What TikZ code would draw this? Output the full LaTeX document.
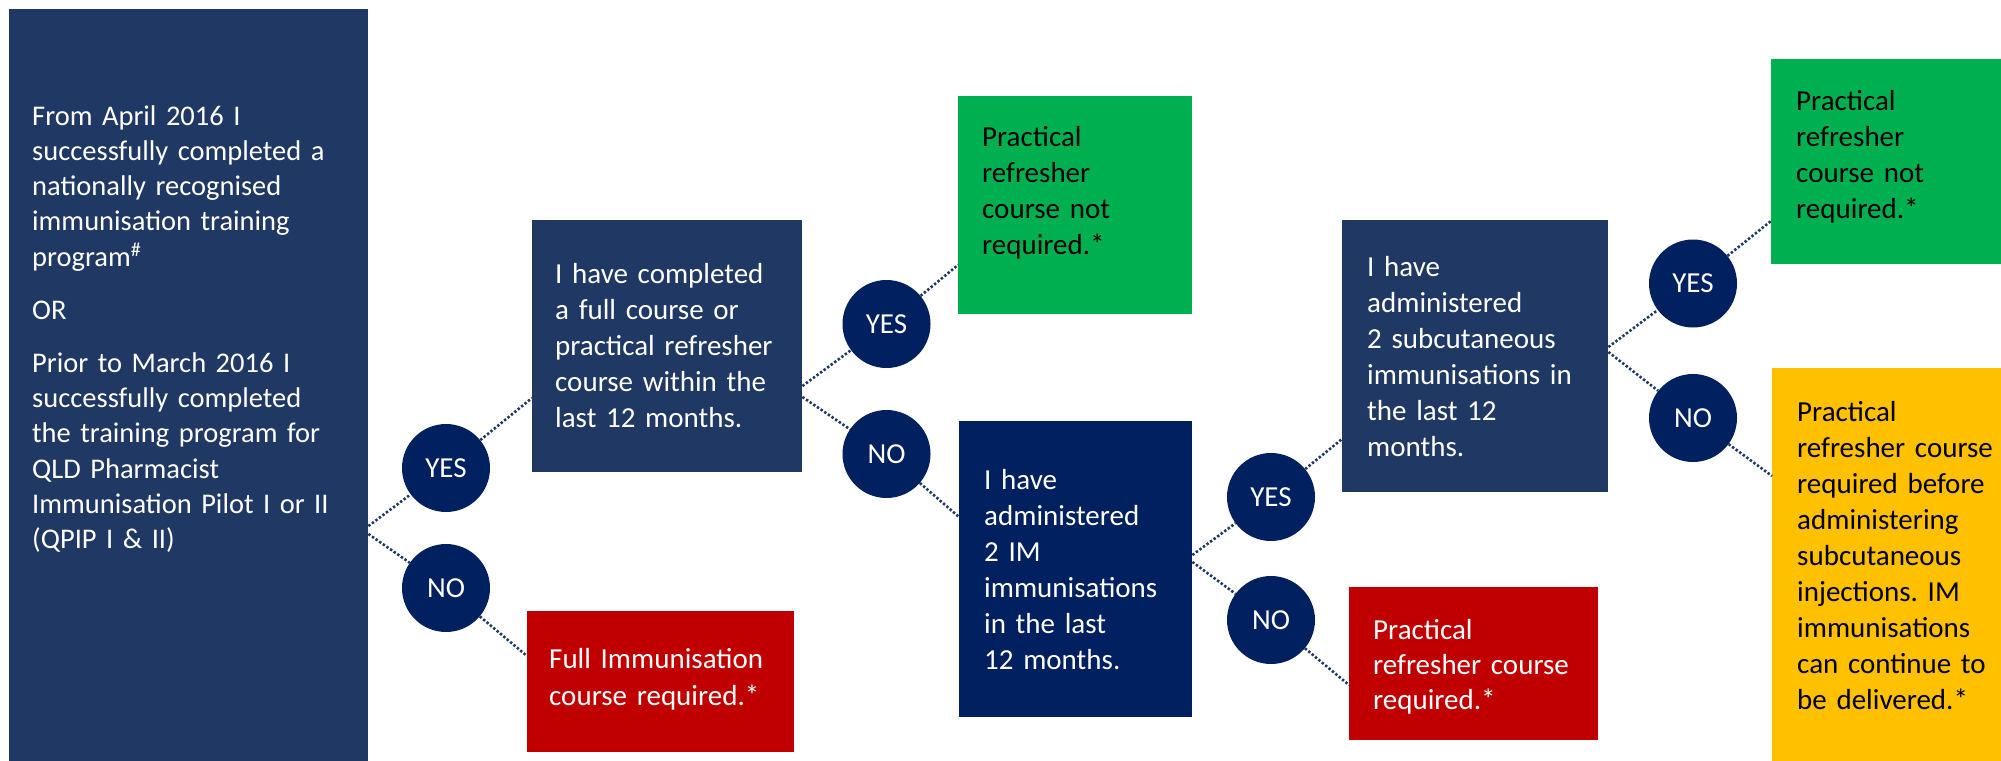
\documentclass[tikz,border=0pt]{standalone}
\usepackage{fontspec}
\setmainfont{Carlito}
\frenchspacing

\definecolor{navyA}{HTML}{203864}
\definecolor{navyB}{HTML}{002060}
\definecolor{okgreen}{HTML}{00B050}
\definecolor{stopred}{HTML}{C00000}
\definecolor{warnyellow}{HTML}{FFC000}

\begin{document}
\begin{tikzpicture}[x=1pt, y=-1pt,
    box/.style={anchor=north west, inner ysep=0pt, align=left, text=white,
        font=\fontsize{29}{36}\selectfont},
    answer/.style={circle, fill=navyB, text=white, minimum size=88pt, inner sep=0pt,
        font=\fontsize{29}{36}\selectfont},
    link/.style={draw=navyA, line width=2.6pt, dash pattern=on 2.4pt off 2pt}]
    \useasboundingbox (0,0) rectangle (2001,760);

    % questions
    \node (start) at (9,9) [box, fill=navyA, text width=313pt, inner xsep=23pt,
        text height=116pt, text depth=645pt, font=\fontsize{28.5}{35.2}\selectfont]
        {From April 2016 I\\ successfully completed a\\ nationally recognised\\
         immunisation training\\ program\textsuperscript{\#}\\[18pt]
         OR\\[18pt]
         Prior to March 2016 I\\ successfully completed\\ the training program for\\
         QLD Pharmacist\\ Immunisation Pilot I or II\\ (QPIP I \& II)};
    \node (recent) at (532,220) [box, fill=navyA, text width=224pt, inner xsep=23pt,
        text height=63pt, text depth=189pt]
        {I have completed\\ a full course or\\ practical refresher\\ course within the\\ last 12 months.};
    \node (im) at (959,421) [box, fill=navyB, text width=183pt, inner xsep=25pt,
        text height=68pt, text depth=228pt]
        {I have\\ administered\\ 2 IM\\ immunisations\\ in the last\\ 12 months.};
    \node (subcut) at (1342,220) [box, fill=navyA, text width=216pt, inner xsep=25pt,
        text height=56pt, text depth=216pt]
        {I have\\ administered\\ 2 subcutaneous\\ immunisations in\\ the last 12\\ months.};

    % outcomes
    \node (fullCourse) at (527,611) [box, fill=stopred, text width=223pt, inner xsep=22pt,
        text height=57pt, text depth=84pt, font=\fontsize{29}{37}\selectfont]
        {Full Immunisation\\ course required.*};
    \node (okOne) at (958,96) [box, fill=okgreen, text=black, text width=186pt, inner xsep=24pt,
        text height=50pt, text depth=168pt]
        {Practical\\ refresher\\ course not\\ required.*};
    \node (refresher) at (1349,587) [box, fill=stopred, text width=201pt, inner xsep=24pt,
        text height=52pt, text depth=101pt, font=\fontsize{29}{35.2}\selectfont]
        {Practical\\ refresher course\\ required.*};
    \node (okTwo) at (1771,59) [box, fill=okgreen, text=black, text width=209pt, inner xsep=25pt,
        text height=51pt, text depth=154pt]
        {Practical\\ refresher\\ course not\\ required.*};
    \node (subcutCourse) at (1772,368) [box, fill=warnyellow, text=black, text width=209pt,
        inner xsep=25pt, text height=53pt, text depth=350pt]
        {Practical\\ refresher course\\ required before\\ administering\\ subcutaneous\\
         injections. IM\\ immunisations\\ can continue to\\ be delivered.*};

    % answers
    \node (yes1) at (446,468) [answer] {YES};
    \node (no1) at (446,588) [answer] {NO};
    \node (yes2) at (886.5,324) [answer] {YES};
    \node (no2) at (886.5,454) [answer] {NO};
    \node (yes3) at (1271,497) [answer] {YES};
    \node (no3) at (1271,620) [answer] {NO};
    \node (yes4) at (1693,283.5) [answer] {YES};
    \node (no4) at (1693,418) [answer] {NO};

    \draw[link] (start.east |- 0,526) -- (yes1) -- (recent.west |- 0,398);
    \draw[link] (start.east |- 0,534) -- (no1) -- (fullCourse.west |- 0,656);
    \draw[link] (recent.east |- 0,386) -- (yes2) -- (okOne.west |- 0,265);
    \draw[link] (recent.east |- 0,397) -- (no2) -- (im.west |- 0,517);
    \draw[link] (im.east |- 0,555) -- (yes3) -- (subcut.west |- 0,439);
    \draw[link] (im.east |- 0,562) -- (no3) -- (refresher.west |- 0,685);
    \draw[link] (subcut.east |- 0,347) -- (yes4) -- (okTwo.west |- 0,221);
    \draw[link] (subcut.east |- 0,352) -- (no4) -- (subcutCourse.west |- 0,476);
\end{tikzpicture}
\end{document}
